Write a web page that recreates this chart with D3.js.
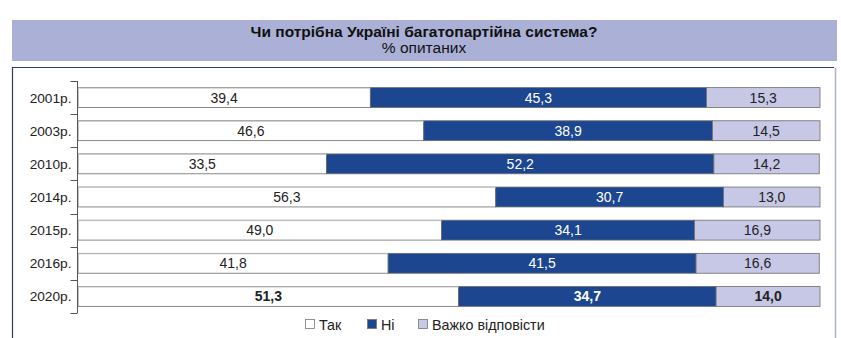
<!DOCTYPE html>
<html><head><meta charset="utf-8">
<script src="https://cdn.jsdelivr.net/npm/d3@7"></script>
<style>body{margin:0;background:#fff;}svg{display:block;font-family:"Liberation Sans",Arial,sans-serif;}</style>
</head><body>
<script>
const years = ["2001р.","2003р.","2010р.","2014р.","2015р.","2016р.","2020р."];
const yes = [39.4,46.6,33.5,56.3,49.0,41.8,51.3];
const no = [45.3,38.9,52.2,30.7,34.1,41.5,34.7];
const hard = [15.3,14.5,14.2,13.0,16.9,16.6,14.0];
const seriesNames = ["Так","Ні","Важко відповісти"];
const colors = ["#ffffff","#1d4690","#c6c8e6"];
const textColors = ["#222","#fff","#222"];
const title = "Чи потрібна Україні багатопартійна система?";
const subtitle = "% опитаних";

const W=841,H=338;
const svg=d3.select("body").append("svg").attr("width",W).attr("height",H);

// header band
svg.append("rect").attr("x",12).attr("y",20).attr("width",825).attr("height",41).attr("fill","#aab0d6");
svg.append("text").attr("x",424).attr("y",37).attr("text-anchor","middle").attr("font-size",15.5).attr("font-weight","bold").attr("fill","#111").text(title);
svg.append("text").attr("x",424).attr("y",53).attr("text-anchor","middle").attr("font-size",15.5).attr("fill","#111").text(subtitle);

// plot frame
svg.append("line").attr("x1",835.5).attr("x2",835.5).attr("y1",68).attr("y2",H).attr("stroke","#aab0d6").attr("stroke-width",1.5);
svg.append("line").attr("x1",12.5).attr("x2",12.5).attr("y1",67).attr("y2",H).attr("stroke","#2a3f6e").attr("stroke-width",1.2);
svg.append("line").attr("x1",12).attr("x2",834).attr("y1",67.5).attr("y2",67.5).attr("stroke","#2a3f6e").attr("stroke-width",1);

const x=d3.scaleLinear().domain([0,100]).range([78,820]);
const y=d3.scaleBand().domain(years).range([81,313]).paddingInner(0.4).paddingOuter(0.2);
const yAxisScale=d3.scaleBand().domain(years).range([81,313]);

const data=years.map((yr,i)=>({year:yr,vals:[yes[i],no[i],hard[i]]}));
const stack=d3.stack().keys([0,1,2]).value((d,k)=>d.vals[k]);
const series=stack(data);

const g=svg.append("g");
series.forEach((s,k)=>{
  g.selectAll(null).data(s).enter().append("rect")
    .attr("x",d=>x(d[0])).attr("y",d=>y(d.data.year))
    .attr("width",d=>x(d[1])-x(d[0])).attr("height",y.bandwidth())
    .attr("fill",colors[k]).attr("stroke","#6d6d6d").attr("stroke-width",0.8);
});
// light top edge on bars
g.selectAll(null).data(data).enter().append("line")
  .attr("x1",x(0)).attr("x2",d=>x(d.vals[0])).attr("y1",d=>y(d.year)+0.5).attr("y2",d=>y(d.year)+0.5)
  .attr("stroke","#c8c8c8").attr("stroke-width",1);

series.forEach((s,k)=>{
  g.selectAll(null).data(s).enter().append("text")
    .attr("x",d=>(x(d[0])+x(d[1]))/2).attr("y",d=>y(d.data.year)+y.bandwidth()/2+5)
    .attr("text-anchor","middle").attr("font-size",14)
    .attr("font-weight",d=>d.data.year==="2020р."?"bold":"normal")
    .attr("fill",textColors[k])
    .text(d=>d.data.vals[k].toFixed(1).replace(".",","));
});

// y axis
const ax=svg.append("g").attr("transform","translate(77.5,0)");
ax.append("line").attr("x1",0).attr("x2",0).attr("y1",81).attr("y2",313).attr("stroke","#555").attr("stroke-width",1);
const tickYs=years.map(v=>yAxisScale(v)).concat([313]);
ax.selectAll(null).data(tickYs).enter().append("line")
  .attr("x1",-7).attr("x2",0).attr("y1",d=>Math.round(d)+0.5).attr("y2",d=>Math.round(d)+0.5).attr("stroke","#555");
ax.selectAll(null).data(years).enter().append("text")
  .attr("x",-6).attr("y",d=>yAxisScale(d)+yAxisScale.bandwidth()/2+5)
  .attr("text-anchor","end").attr("font-size",13.7).attr("fill","#222").text(d=>d);

// legend
const legX=[305,367,418];
seriesNames.forEach((n,k)=>{
  svg.append("rect").attr("x",legX[k]+0.5).attr("y",319.5).attr("width",9).attr("height",9)
    .attr("fill",colors[k]).attr("stroke","#777").attr("stroke-width",0.8);
  svg.append("text").attr("x",legX[k]+14).attr("y",329.5).attr("font-size",14.3).attr("fill","#222").text(n);
});
</script>
</body></html>
